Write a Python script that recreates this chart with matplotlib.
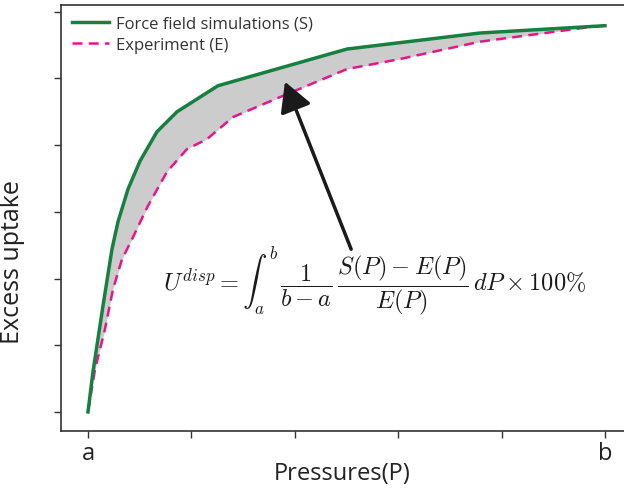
import matplotlib
matplotlib.use("Agg")
import matplotlib.pyplot as plt
import numpy as np

plt.rcParams['font.family'] = ['Open Sans', 'DejaVu Sans']
plt.rcParams['mathtext.fontset'] = 'cm'

# Force field simulations (S)
sim_x = [0.0, 0.048, 0.145, 0.232, 0.29, 0.387, 0.503, 0.667, 0.861, 1.054, 1.257, 2.505, 3.79, 5.0]
sim_y = [0.0, 0.60, 1.59, 2.44, 2.85, 3.34, 3.76, 4.20, 4.50, 4.69, 4.89, 5.44, 5.68, 5.79]
# Experiment (E)
exp_x = [0.0, 0.068, 0.164, 0.242, 0.329, 0.426, 0.58, 0.764, 0.957, 1.151, 1.402, 1.857, 2.505, 3.017, 3.79, 4.855, 5.0]
exp_y = [0.0, 0.64, 1.24, 1.84, 2.29, 2.59, 3.09, 3.60, 3.94, 4.09, 4.42, 4.72, 5.14, 5.29, 5.55, 5.77, 5.79]

xticks = [0, 1, 2, 3, 4, 5]
xticklabels = ['a', '', '', '', '', 'b']
yticks = [0, 1, 2, 3, 4, 5, 6]

fig = plt.figure(figsize=(6.24, 4.89), dpi=100)
ax = fig.add_axes([61/624, 1-432/489, 1-61/624, (432-6)/489])

grid = np.linspace(0, 5, 400)
s_i = np.interp(grid, sim_x, sim_y)
e_i = np.interp(grid, exp_x, exp_y)
ax.fill_between(grid, e_i, s_i, color='#cccccc', lw=0, zorder=1)

ax.plot(sim_x, sim_y, color='#178040', lw=2.5, label='Force field simulations (S)', zorder=3)
ax.plot(exp_x, exp_y, color='#e6158a', lw=1.8, ls=(0, (4, 2.5)), label='Experiment (E)', zorder=2)

ax.set_xlim(-0.261, 5.184)
ax.set_ylim(-0.285, 6.10)
ax.set_xticks(xticks)
ax.set_xticklabels(xticklabels, fontsize=17)
ax.set_yticks(yticks)
ax.set_yticklabels([])
ax.tick_params(axis='both', direction='out', length=5, width=1, colors='#333333', labelcolor='#222222')
ax.tick_params(axis='x', pad=2)
for sp in ['left', 'bottom', 'top']:
    ax.spines[sp].set_color('#333333')
    ax.spines[sp].set_linewidth(1.2)
ax.spines['right'].set_visible(False)

ax.set_xlabel('Pressures(P)', fontsize=17, color='#222222', labelpad=-3)
ax.set_ylabel('Excess uptake', fontsize=18, color='#222222')
ax.yaxis.set_label_coords(-0.064, 0.40)

leg = ax.legend(loc='upper left', frameon=False, fontsize=12, handlelength=2.2,
                borderaxespad=0.25, handletextpad=0.45, labelspacing=0.3)
for t in leg.get_texts():
    t.set_color('#333333')

ax.annotate('', xy=(1.905, 4.95), xytext=(2.545, 2.44),
            arrowprops=dict(arrowstyle='-|>,head_length=1.0,head_width=0.55', lw=2.5,
                            mutation_scale=18, color='#1a1a1a', shrinkA=0, shrinkB=0), zorder=5)

ax.text(2.776, 1.97, r'$U^{disp} = \int_a^b \, \dfrac{1}{b-a}\,\dfrac{S(P)-E(P)}{E(P)}\,dP \times 100\%$',
        fontsize=17.5, ha='center', va='center', color='#1a1a1a')

fig.savefig('out.png', dpi=100)
